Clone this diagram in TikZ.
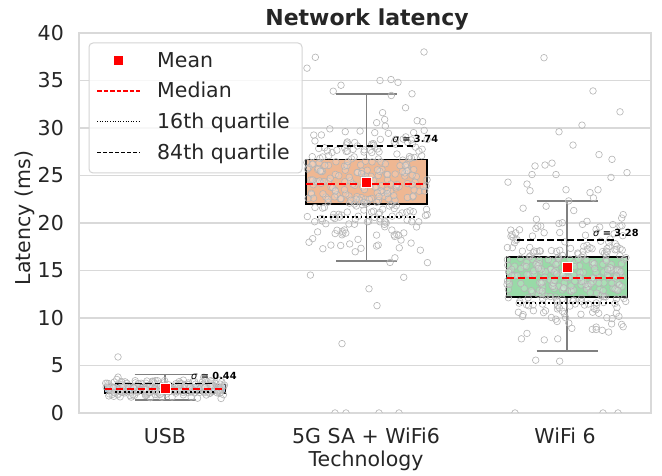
\documentclass[tikz,border=0pt]{standalone}
\usepackage{fontspec}
\setmainfont{DejaVu Sans}

\definecolor{txt}{HTML}{262626}
\definecolor{gridc}{HTML}{D9D9D9}
\definecolor{whisk}{HTML}{808080}
\definecolor{ptc}{HTML}{B4B4B4}
\definecolor{usbc}{HTML}{ABC9EA}
\definecolor{fivegc}{HTML}{EFB792}
\definecolor{wific}{HTML}{98DAA7}
\definecolor{legedge}{HTML}{D4D4D4}

\tikzset{
  gridline/.style={draw=gridc, line width=1.2pt},
  boxbody/.style={draw=black, line width=1.5pt},
  whisker/.style={draw=whisk, line width=1.8pt, line cap=butt},
  datapt/.style={draw=ptc, line width=0.6pt, fill=white, fill opacity=0.18},
  medianline/.style={draw=red, line width=1.8pt, dash pattern=on 7pt off 4pt},
  hiline/.style={draw=black, line width=1.8pt, dash pattern=on 6.5pt off 3.5pt},
  loline/.style={draw=black, line width=1.8pt, dash pattern=on 1.8pt off 2.6pt},
  meanmark/.style={fill=red, draw=white, line width=0.8pt},
  sigmalabel/.style={font=\fontsize{9.8}{11}\selectfont\bfseries, text=black, anchor=west, inner sep=0pt},
  ticklabel/.style={inner sep=0pt},
  legtext/.style={anchor=base west, inner sep=0pt},
}

% jittered strip of normally distributed points:
% centre x, mean, sd, count, half width of the jitter
\newcommand\drawstrip[5]{%
  \foreach \k in {1,...,#4}{%
    \pgfmathsetmacro\ua{max(rnd,0.0005)}%
    \pgfmathsetmacro\ub{rnd}%
    \pgfmathsetmacro\uc{rnd}%
    \pgfmathsetmacro\py{#2+#3*sqrt(-2*ln(\ua))*cos(360*\ub)}%
    \pgfmathsetmacro\px{#1+(2*\uc-1)*#5}%
    \draw[datapt] (\px,\py) circle[radius=3.3pt];
  }}

% box with whiskers: centre, q1, q3, lower whisker, upper whisker, fill
\newcommand\drawbox[6]{%
  \draw[whisker] (#1,#3) -- (#1,#5) (#1-30.5,#5) -- (#1+30.5,#5);
  \draw[whisker] (#1,#2) -- (#1,#4) (#1-30.5,#4) -- (#1+30.5,#4);
  \filldraw[boxbody, fill=#6] (#1-60.5,#2) rectangle (#1+60.5,#3);
}

% overlay statistics: centre, median, mean, 16th, 84th, sigma text
\newcommand\drawstats[6]{%
  \draw[loline] (#1-50,#4) -- (#1+50,#4);
  \draw[hiline] (#1-50,#5) -- (#1+50,#5);
  \draw[medianline] (#1-60.5,#2) -- (#1+60.5,#2);
  \filldraw[meanmark] ([xshift=-5pt,yshift=-5pt]#1,#3) rectangle ([xshift=5pt,yshift=5pt]#1,#3);
  \node[sigmalabel] at (#1+26,#5+0.75) {{\mdseries\itshape σ} = #6};
}

\begin{document}
\begin{tikzpicture}[x=1pt, y=1pt, text=txt, font=\fontsize{20.5}{24}\selectfont]
\useasboundingbox (0,0) rectangle (662,476);
\fill[white] (0,0) rectangle (662,476);

% data area: x in pixels, y in milliseconds
\begin{scope}[shift={(0,63)}, y=9.5pt]
  \foreach \v in {0,5,...,40}{
    \draw[gridline] (79,\v) -- (651,\v);
    \node[ticklabel, anchor=east] at (64,\v) {\v};
  }
  \draw[gridline] (79,0) rectangle (651,40);

  \drawbox{165}{2.1}{3.0}{1.4}{4.05}{usbc}
  \drawbox{366.5}{22.0}{26.7}{16.0}{33.6}{fivegc}
  \drawbox{567}{12.2}{16.4}{6.5}{22.3}{wific}

  \begin{scope}
    \clip (79,0) rectangle (651,40);
    \pgfmathsetseed{7}
    \drawstrip{165}{2.6}{0.44}{260}{60}
    \drawstrip{366.5}{24.2}{3.5}{300}{61}
    \drawstrip{567}{14.5}{3.1}{300}{61}
    \foreach \px/\py in {335/0, 346/0, 379/0, 399/0, 424/38.0, 307/36.3,
        380/35.0, 391/35.1, 398/34.8, 341/34.5, 412/33.6, 377/11.3, 342/7.3,
        515/0, 603/0, 618/0, 544/37.4, 593/33.9, 620/31.7, 582/30.3,
        559/29.6, 573/28.2, 599/27.2, 612/26.7, 545/26.1, 535/26.0,
        552/26.3, 532/25.1, 556/25.1, 611/24.8, 627/25.3, 508/24.3,
        527/24.1, 530/23.4, 566/23.5, 590/23.2, 598/23.5, 118/5.9}
      \draw[datapt] (\px,\py) circle[radius=3.3pt];
  \end{scope}

  \drawstats{165}{2.5}{2.6}{2.2}{3.1}{0.44}
  \drawstats{366.5}{24.1}{24.3}{20.6}{28.1}{3.74}
  \drawstats{567}{14.2}{15.3}{11.6}{18.2}{3.28}
\end{scope}

% axis titles and category labels
\node[inner sep=0pt, anchor=base, font=\fontsize{22}{26}\selectfont\bfseries] (title) at (367,450) {Network latency};
\node[inner sep=0pt, rotate=90] (ylab) at (25,258) {Latency (ms)};
\node[ticklabel, anchor=base] (usb) at (165,32) {USB};
\node[ticklabel, anchor=base] (fiveg) at (366,32) {5G SA + WiFi6};
\node[ticklabel, anchor=base] (wifi) at (565,32) {WiFi 6};
\node[ticklabel, anchor=base] (xlab) at (366,9) {Technology};

% legend
\filldraw[draw=legedge, line width=1pt, fill=white, fill opacity=0.8, rounded corners=4pt]
  (89,433) rectangle (302,303);
\filldraw[fill=red, draw=white, line width=0.8pt] (113,410.3) rectangle (123,420.3);
\draw[draw=red, line width=1.3pt, dash pattern=on 4.5pt off 2pt] (97,385) -- (140,385);
\draw[draw=black, line width=0.9pt, dash pattern=on 1pt off 1.6pt] (97,355) -- (140,355);
\draw[draw=black, line width=1pt, dash pattern=on 4pt off 2pt] (97,323.5) -- (140,323.5);
\node[legtext] (lmean) at (157,408.5) {Mean};
\node[legtext] (lmed) at (157,378) {Median};
\node[legtext] (l16) at (157,347) {16th quartile};
\node[legtext] (l84) at (157,316.5) {84th quartile};
\end{tikzpicture}
\end{document}
